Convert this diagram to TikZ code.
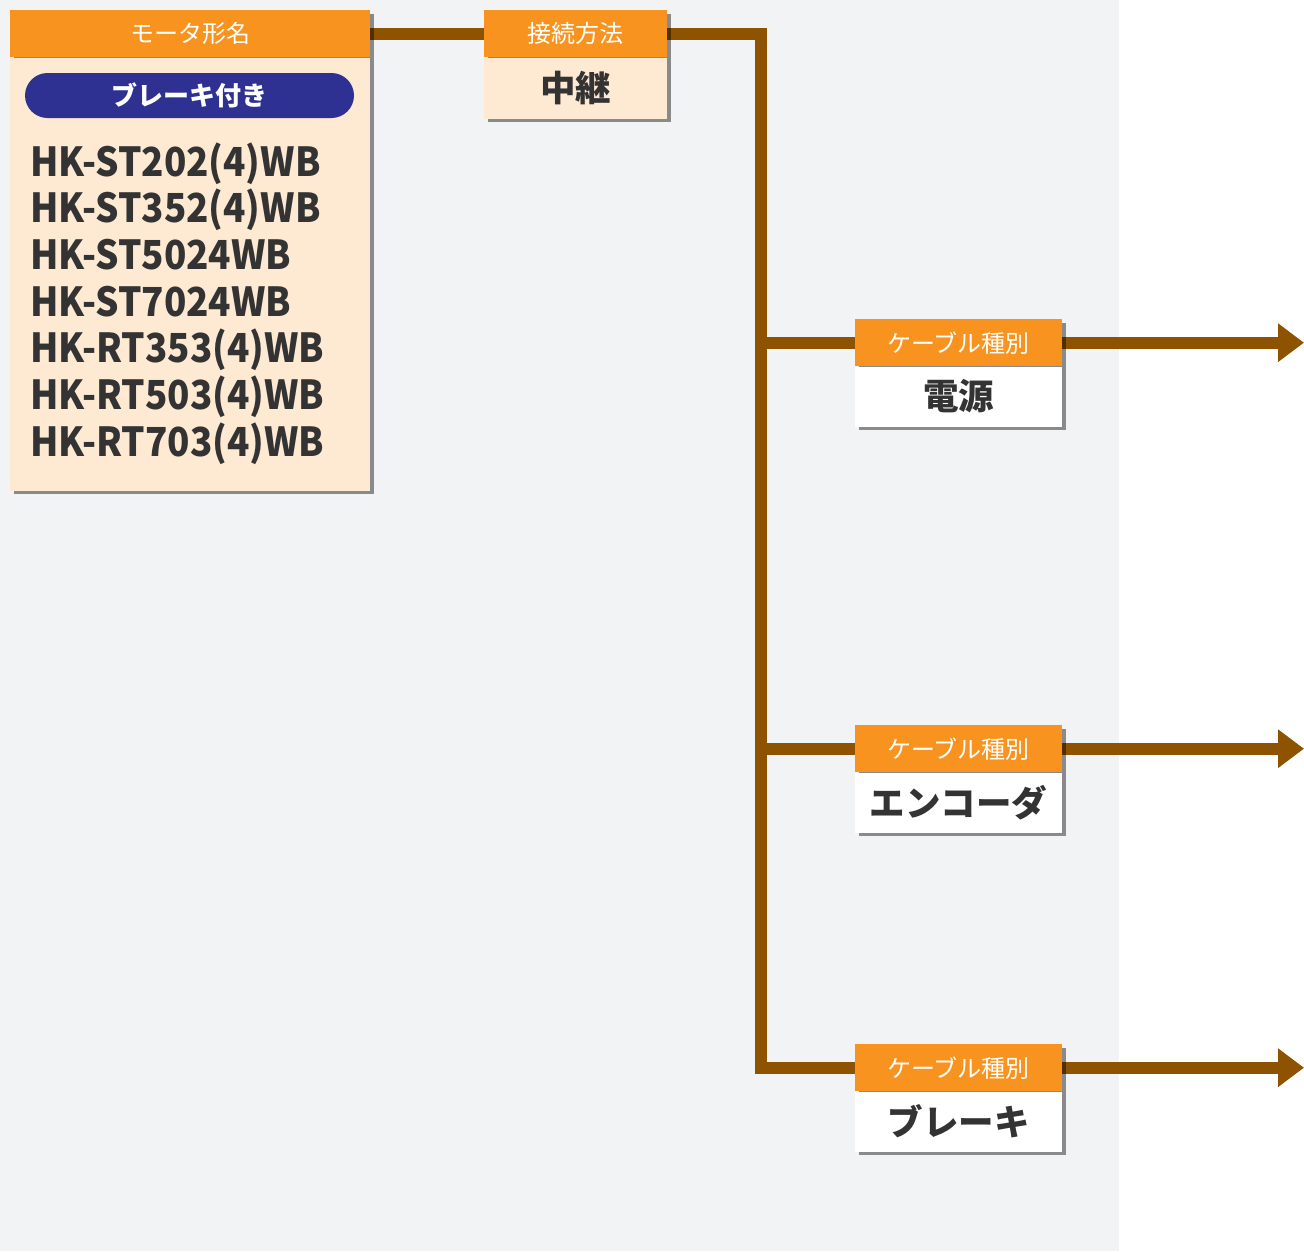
\documentclass[tikz,border=0pt]{standalone}
\usepackage{fontspec}
\setmainfont{Noto Sans CJK JP}
\usetikzlibrary{arrows.meta}
\definecolor{bgc}{HTML}{F2F3F5}
\definecolor{org}{HTML}{F7931E}
\definecolor{peach}{HTML}{FEE9D3}
\definecolor{navy}{HTML}{2E3192}
\definecolor{brn}{HTML}{8E5300}
\definecolor{txt}{HTML}{333333}
\pgfdeclarelayer{back}
\pgfdeclarelayer{lines}
\pgfdeclarelayer{shade}
\pgfsetlayers{back,lines,shade,main}
\newcommand{\mdl}[1]{\scalebox{0.92}[1]{#1}}
\begin{document}
\begin{tikzpicture}[x=1pt,y=-1pt,
  hdr/.style={anchor=north west, inner sep=0pt, minimum height=47pt, fill=org, text=white,
    font=\fontsize{24}{24}\selectfont},
  bodybox/.style={anchor=north west, inner sep=0pt, text=txt,
    font=\fontsize{35.5}{35.5}\selectfont\bfseries},
  pill/.style={inner sep=0pt, minimum width=329pt, minimum height=45pt, rounded corners=22.5pt,
    fill=navy, text=white, font=\fontsize{26}{26}\selectfont\bfseries},
  model/.style={anchor=base west, inner sep=0pt, text=txt, font=\fontsize{40}{40}\selectfont\bfseries},
  conn/.style={draw=brn, line width=12pt, line join=miter},
  shadowfill/.style={fill=black, opacity=0.43},
  tip/.style={-{Triangle[length=26pt,width=37pt]}}
]
\useasboundingbox (0,0) rectangle (1304,1251);
\begin{pgfonlayer}{back}
  \fill[white] (0,0) rectangle (1304,1251);
  \fill[bgc] (0,0) rectangle (1119,1251);
\end{pgfonlayer}

% box 1
\node[hdr, minimum width=360pt] (h1) at (10,10) {モータ形名};
\node[bodybox, fill=peach, minimum width=360pt, minimum height=433pt] (b1) at (h1.south west) {};
\node[pill] (p1) at (189.5,95.5) {ブレーキ付き};
\node[model] (m1) at (30,176) {\mdl{HK-ST202(4)WB}};
\node[model] (m2) at (30,222.7) {\mdl{HK-ST352(4)WB}};
\node[model] (m3) at (30,269.3) {\mdl{HK-ST5024WB}};
\node[model] (m4) at (30,316) {\mdl{HK-ST7024WB}};
\node[model] (m5) at (30,362.7) {\mdl{HK-RT353(4)WB}};
\node[model] (m6) at (30,409.3) {\mdl{HK-RT503(4)WB}};
\node[model] (m7) at (30,456) {\mdl{HK-RT703(4)WB}};

% box 2
\node[hdr, minimum width=183pt] (h2) at (484,10) {接続方法};
\node[bodybox, fill=peach, minimum width=183pt, minimum height=61pt] (b2) at (h2.south west) {中継};

% cable boxes
\node[hdr, minimum width=207pt] (h3) at (855,319) {ケーブル種別};
\node[bodybox, fill=white, minimum width=207pt, minimum height=60pt] (b3) at (h3.south west) {電源};
\node[hdr, minimum width=207pt] (h4) at (855,725) {ケーブル種別};
\node[bodybox, fill=white, minimum width=207pt, minimum height=60pt] (b4) at (h4.south west) {エンコーダ};
\node[hdr, minimum width=207pt] (h5) at (855,1044) {ケーブル種別};
\node[bodybox, fill=white, minimum width=207pt, minimum height=60pt] (b5) at (h5.south west) {ブレーキ};

\begin{pgfonlayer}{shade}
  \foreach \h/\b in {h1/b1,h2/b2,h3/b3,h4/b4,h5/b5}
    \fill[shadowfill] ([shift={(3.5,3.5)}]\h.north west) rectangle ([shift={(3.5,3.5)}]\b.south east);
\end{pgfonlayer}

\coordinate (bx) at (761,0);
\coordinate (ex) at (1304,0);
\begin{pgfonlayer}{lines}
  \draw[conn] (h1.east) -- (h2.west);
  \draw[conn] (h2.east) -| (bx |- h5.west) -- (h5.west);
  \draw[conn] (bx |- h3.west) -- (h3.west);
  \draw[conn] (bx |- h4.west) -- (h4.west);
  \draw[conn, tip] (h3.east) -- (h3.east -| ex);
  \draw[conn, tip] (h4.east) -- (h4.east -| ex);
  \draw[conn, tip] (h5.east) -- (h5.east -| ex);
\end{pgfonlayer}
\end{tikzpicture}
\end{document}
